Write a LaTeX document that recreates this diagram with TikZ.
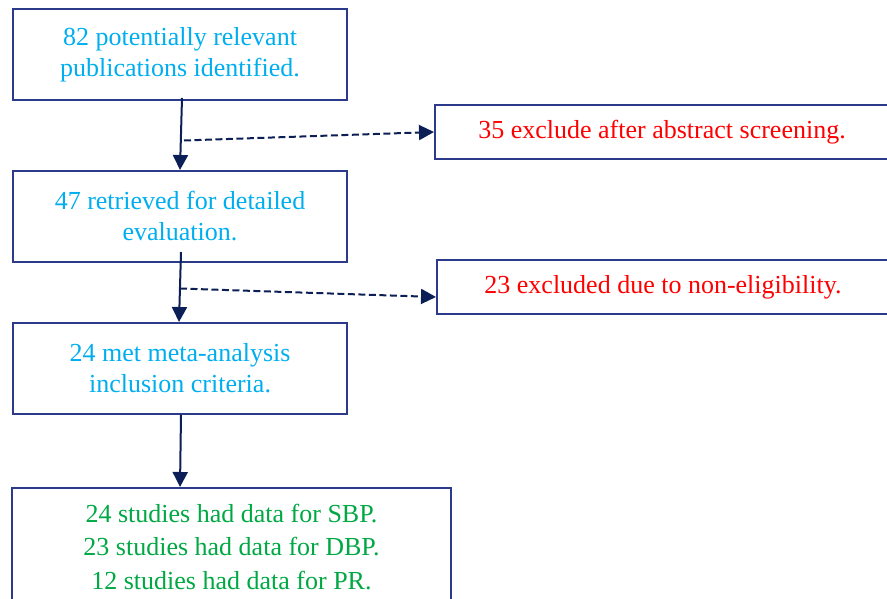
\documentclass[tikz,border=0pt]{standalone}
\usepackage{fontspec}
\setmainfont{Liberation Serif}
\usetikzlibrary{arrows.meta,calc}
\definecolor{boxblue}{HTML}{2B3A8A}
\definecolor{arrnavy}{HTML}{0B1E56}
\definecolor{txtblue}{HTML}{00AEEF}
\definecolor{txtred}{HTML}{FF0000}
\definecolor{txtgreen}{HTML}{00A844}
\tikzset{
  flowbox/.style={draw=boxblue, line width=2pt, rectangle, inner sep=0pt,
    align=center, font=\fontsize{26}{31}\selectfont},
  arr/.style={draw=arrnavy, line width=2pt, -{Triangle[width=15pt,length=15pt]}},
  dasharr/.style={draw=arrnavy, line width=2pt, dash pattern=on 7pt off 3.5pt,
    -{Triangle[width=15pt,length=15pt]}}
}
\begin{document}
\begin{tikzpicture}[x=1pt,y=-1pt]
\useasboundingbox (0,0) rectangle (887,599);
\clip (0,0) rectangle (887,599);
\node[flowbox, text=txtblue, minimum width=334pt, minimum height=91pt] (b1) at (180,54.5)
  {82 potentially relevant\\publications identified.};
\node[flowbox, text=txtblue, minimum width=334pt, minimum height=91pt] (b2) at (180,216.5)
  {47 retrieved for detailed\\evaluation.};
\node[flowbox, text=txtblue, minimum width=334pt, minimum height=91pt] (b3) at (180,368.5)
  {24 met meta-analysis\\inclusion criteria.};
\node[flowbox, text=txtgreen, minimum width=439pt, minimum height=118pt,
  font=\fontsize{26}{33.5}\selectfont] (b4) at (231.5,547)
  {24 studies had data for SBP.\\23 studies had data for DBP.\\12 studies had data for PR.};
\node[flowbox, text=txtred, minimum width=454pt, minimum height=54pt] (ra) at (662,132)
  {35 exclude after abstract screening.};
\node[flowbox, text=txtred, minimum width=452pt, minimum height=54pt] (rb) at (663,287)
  {23 excluded due to non-eligibility.};
\draw[arr] ($(b1.south)+(2,-3)$) -- (b2.north);
\draw[arr] ($(b2.south)+(1,-11)$) -- ($(b3.north)+(-1,0)$);
\draw[arr] ($(b3.south)+(1,0)$) -- ($(b3.south |- b4.north)+(0,0)$);
\coordinate (d1) at (184,140.5);
\coordinate (d2) at (180,288.5);
\draw[dasharr] (d1) -- (ra.west);
\draw[dasharr] (d2) -- ($(rb.west)+(0,10)$);
\end{tikzpicture}
\end{document}
